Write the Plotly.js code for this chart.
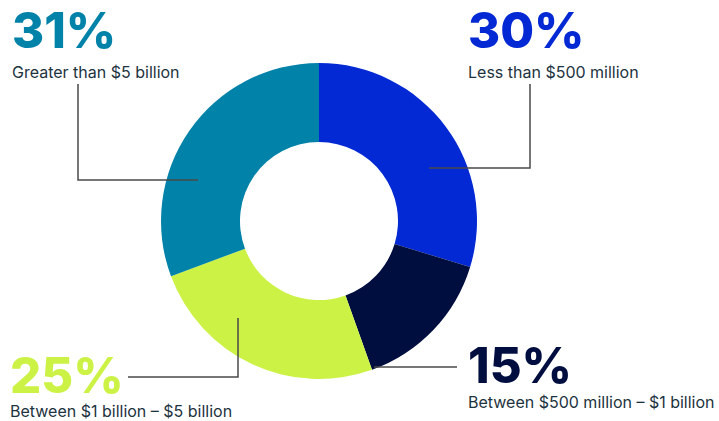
<!DOCTYPE html>
<html>
<head>
<meta charset="utf-8">
<script src="https://cdn.plot.ly/plotly-3.0.1.min.js"></script>
<style>html,body{margin:0;padding:0;background:#fff;}#chart{width:719px;height:421px;}</style>
</head>
<body>
<div id="chart"></div>
<script>
const categories = ["Less than $500 million", "Between $500 million – $1 billion", "Between $1 billion – $5 billion", "Greater than $5 billion"];
const shares = [30, 15, 25, 31];
const shareLabels = ["30%", "15%", "25%", "31%"];
const colors = ["#0229D4", "#000D3F", "#CCF246", "#0182A8"];

const W = 719, H = 421;
const px = x => x / W;
const py = y => 1 - y / H;

// label anchor positions (pixels): [left x, big text centre y, small text centre y]
const labelPos = [
  [467, 30, 72],
  [467, 365, 402],
  [9, 375, 411],
  [11, 30, 72]
];

const annotations = [];
categories.forEach((c, i) => {
  const [x, yb, ys] = labelPos[i];
  annotations.push({
    xref: "paper", yref: "paper", x: px(x), y: py(yb), xanchor: "left", yanchor: "middle",
    text: shareLabels[i], showarrow: false, height: 40, borderpad: 0,
    font: {family: "Inter", size: 49, weight: 800, color: colors[i]}
  });
  annotations.push({
    xref: "paper", yref: "paper", x: px(x), y: py(ys), xanchor: "left", yanchor: "middle",
    text: c, showarrow: false, height: 16, borderpad: 0,
    font: {family: "Inter", size: 16, color: "#1d3340"}
  });
});

const lineStyle = {color: "#4a4a4a", width: 1.5};
const leaders = [
  [[429,168],[530,168],[530,84]],
  [[374,367],[457,367]],
  [[238,318],[238,377],[128,377]],
  [[198,180],[78,180],[78,84]]
];
const shapes = leaders.map(pts => ({
  type: "path", xref: "paper", yref: "paper",
  path: pts.map((p, k) => (k ? "L" : "M") + px(p[0]) + "," + py(p[1])).join(" "),
  line: lineStyle
}));

const data = [{
  type: "pie",
  labels: categories,
  values: shares,
  hole: 0.5,
  sort: false,
  direction: "clockwise",
  rotation: 0,
  textinfo: "none",
  hoverinfo: "label+percent",
  marker: {colors: colors, line: {width: 0}},
  domain: {x: [px(161), px(477)], y: [py(379), py(63)]}
}];

const layout = {
  width: W, height: H,
  margin: {l: 0, r: 0, t: 0, b: 0},
  showlegend: false,
  paper_bgcolor: "#ffffff",
  annotations: annotations,
  shapes: shapes
};

Plotly.newPlot("chart", data, layout, {displayModeBar: false, staticPlot: true});
</script>
</body>
</html>
